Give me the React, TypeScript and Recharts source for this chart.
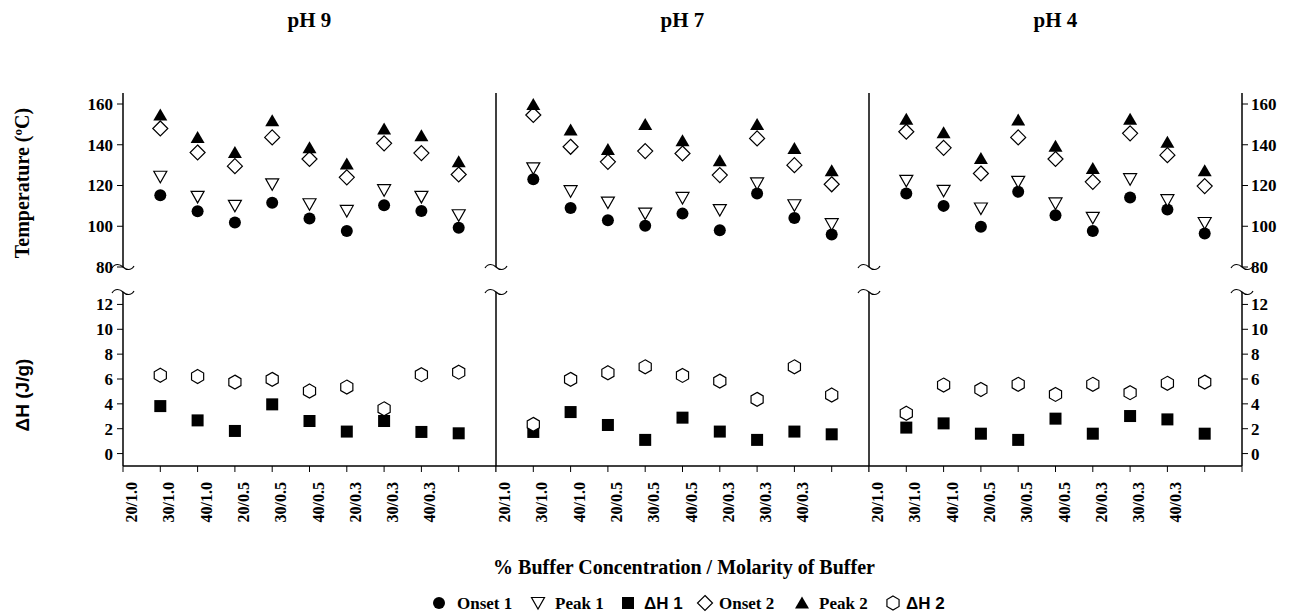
import React from "react";
import { Scatter, ScatterChart, XAxis, YAxis } from "recharts";

// x labels: % buffer / molarity
const categories = ["20/1.0", "30/1.0", "40/1.0", "20/0.5", "30/0.5", "40/0.5", "20/0.3", "30/0.3", "40/0.3"];

// temperatures (°C)
const ph9Onset1 = [115.2, 107.4, 101.8, 111.5, 103.8, 97.7, 110.3, 107.5, 99.3];
const ph9Peak1 = [124.3, 114.4, 110.0, 120.6, 110.8, 107.5, 117.7, 114.4, 105.4];
const ph9Onset2 = [148.0, 136.2, 129.5, 143.6, 133.0, 124.0, 140.7, 135.9, 125.4];
const ph9Peak2 = [154.6, 143.6, 136.2, 151.8, 138.5, 130.5, 147.7, 144.4, 131.6];

const ph7Onset1 = [123.1, 109.0, 103.0, 100.2, 106.2, 98.0, 116.1, 104.1, 96.0];
const ph7Peak1 = [128.4, 117.2, 111.6, 106.2, 113.9, 107.9, 121.0, 110.3, 101.0];
const ph7Onset2 = [154.6, 139.0, 131.6, 136.9, 135.7, 125.1, 143.1, 130.0, 120.6];
const ph7Peak2 = [159.8, 147.2, 137.7, 150.0, 142.0, 132.1, 150.0, 138.2, 127.2];

const ph4Onset1 = [116.1, 110.0, 99.7, 116.9, 105.4, 97.7, 114.1, 108.2, 96.4];
const ph4Peak1 = [122.3, 117.4, 108.7, 121.8, 111.2, 104.1, 123.1, 112.8, 101.6];
const ph4Onset2 = [146.4, 138.5, 125.9, 143.6, 133.0, 121.8, 145.6, 134.9, 119.7];
const ph4Peak2 = [152.5, 145.9, 133.3, 152.1, 139.3, 128.4, 152.5, 141.2, 127.2];

// enthalpies (J/g)
const ph9Dh1 = [3.82, 2.67, 1.82, 3.96, 2.62, 1.77, 2.62, 1.74, 1.63];
const ph9Dh2 = [6.3, 6.2, 5.75, 5.97, 5.03, 5.35, 3.6, 6.35, 6.55];
const ph7Dh1 = [1.74, 3.34, 2.3, 1.1, 2.89, 1.77, 1.1, 1.77, 1.55];
const ph7Dh2 = [2.35, 5.97, 6.5, 6.98, 6.29, 5.83, 4.36, 6.98, 4.71];
const ph4Dh1 = [2.09, 2.43, 1.6, 1.1, 2.81, 1.6, 3.02, 2.75, 1.6];
const ph4Dh2 = [3.24, 5.51, 5.16, 5.57, 4.76, 5.57, 4.9, 5.65, 5.75];

const tempTicks = [80, 100, 120, 140, 160];
const dhTicks = [0, 2, 4, 6, 8, 10, 12];
const xTicks = [0, 1, 2, 3, 4, 5, 6, 7, 8, 9, 10];

const panels = [
  { title: "pH 9", onset1: ph9Onset1, peak1: ph9Peak1, onset2: ph9Onset2, peak2: ph9Peak2, dh1: ph9Dh1, dh2: ph9Dh2 },
  { title: "pH 7", onset1: ph7Onset1, peak1: ph7Peak1, onset2: ph7Onset2, peak2: ph7Peak2, dh1: ph7Dh1, dh2: ph7Dh2 },
  { title: "pH 4", onset1: ph4Onset1, peak1: ph4Peak1, onset2: ph4Onset2, peak2: ph4Peak2, dh1: ph4Dh1, dh2: ph4Dh2 },
];

const SERIF = '"Liberation Serif", "Times New Roman", serif';
const SANS = '"Liberation Sans", Arial, sans-serif';
const INK = "#000";

const PLOT_LEFT = [123, 496, 869];
const PLOT_W = 373;
const UPPER_TOP = 93;
const LOWER_TOP = 292;
const SECTION_H = 174;

const toPoints = (vals: number[]) => vals.map((y, i) => ({ x: i + 1, y }));

// marker glyphs
const dot = (cx: number, cy: number) => <circle cx={cx} cy={cy} r={6} fill={INK} />;
const downTri = (cx: number, cy: number) => (
  <polygon
    points={`${cx - 6.5},${cy - 5.5} ${cx + 6.5},${cy - 5.5} ${cx},${cy + 6}`}
    fill="#fff"
    stroke={INK}
    strokeWidth={1.2}
  />
);
const square = (cx: number, cy: number) => <rect x={cx - 6} y={cy - 6} width={12} height={12} fill={INK} />;
const diamond = (cx: number, cy: number) => (
  <polygon
    points={`${cx},${cy - 7.5} ${cx + 7.5},${cy} ${cx},${cy + 7.5} ${cx - 7.5},${cy}`}
    fill="#fff"
    stroke={INK}
    strokeWidth={1.2}
  />
);
const upTri = (cx: number, cy: number) => (
  <polygon points={`${cx},${cy - 6.5} ${cx + 7},${cy + 5.5} ${cx - 7},${cy + 5.5}`} fill={INK} />
);
const hexagon = (cx: number, cy: number) => {
  const r = 7;
  const w = r * Math.cos(Math.PI / 6);
  return (
    <polygon
      points={`${cx},${cy - r} ${cx + w},${cy - r / 2} ${cx + w},${cy + r / 2} ${cx},${cy + r} ${cx - w},${cy + r / 2} ${cx - w},${cy - r / 2}`}
      fill="#fff"
      stroke={INK}
      strokeWidth={1.2}
    />
  );
};

const shapeOf = (draw: (cx: number, cy: number) => React.ReactElement) => (p: any) => draw(p.cx, p.cy);

const axisLine = { stroke: INK, strokeWidth: 1.5 };
const tickLine = { stroke: INK, strokeWidth: 1 };

const renderNumTick = (props: any) => {
  const { x, y, payload, textAnchor } = props;
  return (
    <text
      x={x}
      y={y}
      dy="0.35em"
      textAnchor={textAnchor}
      fill={INK}
      style={{ fontFamily: SERIF, fontWeight: 700, fontSize: 17 }}
    >
      {payload.value}
    </text>
  );
};

const renderCategoryTick = (props: any) => {
  const { x, y, payload } = props;
  const label = categories[payload.value];
  if (!label) return <g />;
  const ax = x + 14;
  return (
    <text
      x={ax}
      y={y}
      transform={`rotate(-90, ${ax}, ${y})`}
      textAnchor="end"
      fill={INK}
      style={{ fontFamily: SERIF, fontWeight: 700, fontSize: 16 }}
    >
      {label}
    </text>
  );
};

function Section({ index, kind }: { index: number; kind: "temp" | "dh" }) {
  const panel = panels[index];
  const first = index === 0;
  const last = index === panels.length - 1;
  const upper = kind === "temp";
  const leftW = first ? 60 : 12;
  const rightW = last ? 60 : 0;
  const topPad = 12;
  const bottomPad = upper ? 12 : 80;
  const width = leftW + PLOT_W + rightW;
  const height = topPad + SECTION_H + bottomPad;
  const domain = upper ? [80, 165.4] : [-1, 13];
  const ticks = upper ? tempTicks : dhTicks;

  return (
    <div
      style={{
        position: "absolute",
        left: PLOT_LEFT[index] - leftW,
        top: (upper ? UPPER_TOP : LOWER_TOP) - topPad,
        width,
        height,
      }}
    >
      <ScatterChart
        width={width}
        height={height}
        margin={{ top: topPad, right: 0, bottom: upper ? bottomPad : 0, left: 0 }}
      >
        {upper ? (
          <XAxis
            type="number"
            dataKey="x"
            orientation="top"
            domain={[0, 10]}
            height={0}
            stroke={INK}
            axisLine={{ stroke: INK, strokeWidth: 2 }}
            tick={false}
            tickLine={false}
          />
        ) : (
          <XAxis
            type="number"
            dataKey="x"
            domain={[0, 10]}
            ticks={xTicks}
            interval={0}
            height={bottomPad}
            stroke={INK}
            axisLine={axisLine}
            tickLine={tickLine}
            tickSize={6}
            tickMargin={10}
            tick={renderCategoryTick}
          />
        )}
        <YAxis
          yAxisId="left"
          type="number"
          dataKey="y"
          domain={domain}
          ticks={ticks}
          interval={0}
          allowDataOverflow
          width={leftW}
          stroke={INK}
          axisLine={axisLine}
          tickLine={tickLine}
          tickSize={first ? 6 : 4}
          tickMargin={4}
          tick={first ? renderNumTick : false}
        />
        {last && (
          <YAxis
            yAxisId="right"
            orientation="right"
            type="number"
            dataKey="y"
            domain={domain}
            ticks={ticks}
            interval={0}
            allowDataOverflow
            width={rightW}
            stroke={INK}
            axisLine={axisLine}
            tickLine={tickLine}
            tickSize={6}
            tickMargin={3}
            tick={renderNumTick}
          />
        )}
        {upper ? (
          <>
            <Scatter yAxisId="left" name="Onset 1" data={toPoints(panel.onset1)} shape={shapeOf(dot)} isAnimationActive={false} />
            <Scatter yAxisId="left" name="Peak 1" data={toPoints(panel.peak1)} shape={shapeOf(downTri)} isAnimationActive={false} />
            <Scatter yAxisId="left" name="Onset 2" data={toPoints(panel.onset2)} shape={shapeOf(diamond)} isAnimationActive={false} />
            <Scatter yAxisId="left" name="Peak 2" data={toPoints(panel.peak2)} shape={shapeOf(upTri)} isAnimationActive={false} />
          </>
        ) : (
          <>
            <Scatter yAxisId="left" name="ΔH 1" data={toPoints(panel.dh1)} shape={shapeOf(square)} isAnimationActive={false} />
            <Scatter yAxisId="left" name="ΔH 2" data={toPoints(panel.dh2)} shape={shapeOf(hexagon)} isAnimationActive={false} />
          </>
        )}
      </ScatterChart>
    </div>
  );
}

// axis-break squiggle centred on an axis end
const breakPath = (ax: number, ay: number) =>
  `M ${ax - 11} ${ay + 1} C ${ax - 8} ${ay - 4}, ${ax - 3} ${ay - 3}, ${ax} ${ay} C ${ax + 3} ${ay + 3}, ${ax + 8} ${ay + 4}, ${ax + 11} ${ay - 1}`;

const legendItems = [
  { label: "Onset 1", draw: dot, mx: 439, tx: 457, sans: false },
  { label: "Peak 1", draw: downTri, mx: 538, tx: 555, sans: false },
  { label: "ΔH 1", draw: square, mx: 628, tx: 644, sans: true },
  { label: "Onset 2", draw: diamond, mx: 705, tx: 719, sans: false },
  { label: "Peak 2", draw: upTri, mx: 802, tx: 819, sans: false },
  { label: "ΔH 2", draw: hexagon, mx: 893, tx: 906, sans: true },
];

function Decorations() {
  const axisXs = [...PLOT_LEFT, PLOT_LEFT[2] + PLOT_W];
  return (
    <svg
      width={1295}
      height={615}
      style={{ position: "absolute", left: 0, top: 0, pointerEvents: "none" }}
    >
      {panels.map((p, i) => (
        <text
          key={p.title}
          x={PLOT_LEFT[i] + PLOT_W / 2}
          y={27}
          textAnchor="middle"
          fontSize={21}
          fontWeight={700}
          fontFamily={SERIF}
          fill={INK}
        >
          {p.title}
        </text>
      ))}
      <text
        x={29}
        y={183}
        transform="rotate(-90, 29, 183)"
        textAnchor="middle"
        fontSize={20}
        fontWeight={700}
        fontFamily={SERIF}
        fill={INK}
      >
        Temperature (ºC)
      </text>
      <text
        x={29}
        y={395}
        transform="rotate(-90, 29, 395)"
        textAnchor="middle"
        fontSize={19}
        fontWeight={700}
        fontFamily={SANS}
        fill={INK}
      >
        ΔH (J/g)
      </text>
      {axisXs.map((ax) => (
        <g key={ax} fill="none" stroke={INK} strokeWidth={1.2}>
          <path d={breakPath(ax, UPPER_TOP + SECTION_H)} />
          <path d={breakPath(ax, LOWER_TOP)} />
        </g>
      ))}
      <text
        x={684}
        y={574}
        textAnchor="middle"
        fontSize={20}
        fontWeight={700}
        fontFamily={SERIF}
        fill={INK}
      >
        % Buffer Concentration / Molarity of Buffer
      </text>
      {legendItems.map((it) => (
        <g key={it.label}>
          {it.draw(it.mx, 603)}
          <text
            x={it.tx}
            y={609}
            fontSize={17}
            fontWeight={700}
            fontFamily={it.sans ? SANS : SERIF}
            fill={INK}
          >
            {it.label}
          </text>
        </g>
      ))}
    </svg>
  );
}

export default function App() {
  return (
    <div style={{ position: "absolute", left: 0, top: 0, width: 1295, height: 615, background: "#fff" }}>
      {panels.map((p, i) => (
        <React.Fragment key={p.title}>
          <Section index={i} kind="temp" />
          <Section index={i} kind="dh" />
        </React.Fragment>
      ))}
      <Decorations />
    </div>
  );
}
